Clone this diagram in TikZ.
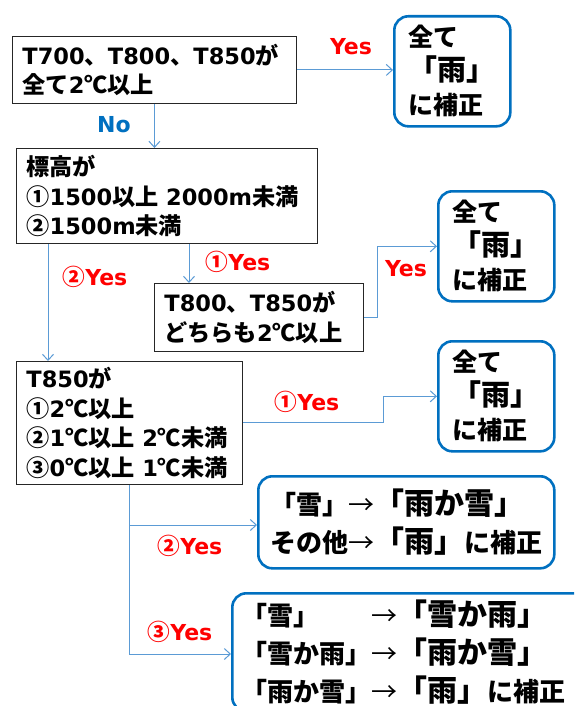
\documentclass[tikz,border=0pt]{standalone}
\usepackage{fontspec}
\setmainfont{DejaVu Sans}
\newfontfamily\jp{Noto Sans CJK JP}[Scale=1.03]
\newfontfamily\jq{Noto Sans CJK JP}
\usetikzlibrary{arrows.meta}
\definecolor{resblue}{HTML}{0070C0}
\definecolor{arrblue}{HTML}{5B9BD5}
\definecolor{labred}{HTML}{FF0000}
\newcommand\J[1]{{\jp #1}}
\newcommand\BigA[1]{{\fontsize{29}{34}\selectfont #1}}
\newcommand\BigB[1]{{\fontsize{30}{36}\selectfont #1}}
\newcommand\thinarr{{\mdseries →}}
\begin{document}
\begin{tikzpicture}[x=1pt,y=-1pt,
  qbox/.style={draw=black!85, line width=0.9pt, anchor=north west, align=left,
    inner xsep=10pt, inner ysep=0pt, font=\fontsize{22.5}{29.5}\selectfont\bfseries},
  res/.style={draw=resblue, line width=2.6pt, rounded corners=14pt, anchor=north west,
    align=left, inner sep=0pt},
  resA/.style={res, font=\jq\fontsize{25}{34}\selectfont\bfseries,
    minimum width=116pt, minimum height=110pt},
  resB/.style={res, font=\jq\fontsize{26}{38}\selectfont\bfseries},
  conn/.style={draw=arrblue, line width=1pt, -{Straight Barb[length=6pt,width=11pt]}},
  lab/.style={text=labred, font=\fontsize{22}{25}\selectfont\bfseries, inner sep=0pt}]
\clip (0,0) rectangle (574,706);
\fill[white] (0,0) rectangle (574,706);

% question boxes
\node[qbox, text width=264pt, minimum height=67pt] (b1) at (12,36)
  {T700\J{、}T800\J{、}T850\J{が}\\\J{全て}2\J{℃以上}};
\node[qbox, text width=281pt, minimum height=95pt] (b2) at (16,148)
  {\J{標高が}\\\J{①}1500\J{以上} 2000m\J{未満}\\\J{②}1500m\J{未満}};
\node[qbox, text width=189pt, minimum height=68pt] (b3a) at (154,283)
  {T800\J{、}T850\J{が}\\\J{どちらも}2\J{℃以上}};
\node[qbox, text width=206pt, minimum height=123pt] (b3) at (16,361)
  {T850\J{が}\\\J{①}2\J{℃以上}\\\J{②}1\J{℃以上} 2\J{℃未満}\\\J{③}0\J{℃以上} 1\J{℃未満}};

% result boxes
\node[resA] (r1) at (393,15) {全て\\\BigA{「雨」}\\に補正};
\node[resA] (r2) at (437,190) {全て\\\BigA{「雨」}\\に補正};
\node[resA] (r3) at (437,340) {全て\\\BigA{「雨」}\\に補正};
\node[resB, minimum width=296pt, minimum height=92pt] (r4) at (257,475)
  {「雪」\thinarr\BigB{「雨か雪」}\\その他\thinarr\BigB{「雨」}に補正};
\node[resB, text width=340pt, inner xsep=9pt, minimum height=118pt] (r5) at (231,592)
  {\makebox[130pt][l]{「雪」}\thinarr\BigB{「雪か雨」}\\「雪か雨」\thinarr\BigB{「雨か雪」}\\「雨か雪」\thinarr\BigB{「雨」}に補正};

% labels
\node[lab] (lyes1) at (351,47) {Yes};
\node[lab, text=resblue] (lno) at (114,125) {No};
\node[lab] (lyes2) at (238,262) {\J{①}Yes};
\node[lab] (lyes3) at (95,277) {\J{②}Yes};
\node[lab] (lyes4) at (406,269) {Yes};
\node[lab] (lyes5) at (307,402) {\J{①}Yes};
\node[lab] (lyes6) at (190,546) {\J{②}Yes};
\node[lab] (lyes7) at (180,632) {\J{③}Yes};

% helper coordinates
\coordinate (xa) at (189,0);
\coordinate (xb) at (48,0);
\coordinate (ja) at (377,0);
\coordinate (jb) at (383,0);
\coordinate (xc) at (129,0);
\coordinate (ya) at (0,525);
\coordinate (yb) at (0,654);

% connectors
\draw[conn] (b1.east) -- (b1.east -| r1.west);
\draw[conn] (b1.south) -- (b2.north -| b1.south);
\draw[conn] (b2.south -| xa) -- (b3a.north -| xa);
\draw[conn] (b2.south -| xb) -- (b3.north -| xb);
\draw[conn] (b3a.east) -- (b3a.east -| ja) -- (r2.west -| ja) -- (r2.west);
\draw[conn] (b3.east) -- (b3.east -| jb) -- (r3.west -| jb) -- (r3.west);
\draw[conn] (b3.south -| xc) -- (xc |- yb) -- (r5.west |- yb);
\draw[conn] (xc |- ya) -- (r4.west |- ya);
\end{tikzpicture}
\end{document}
